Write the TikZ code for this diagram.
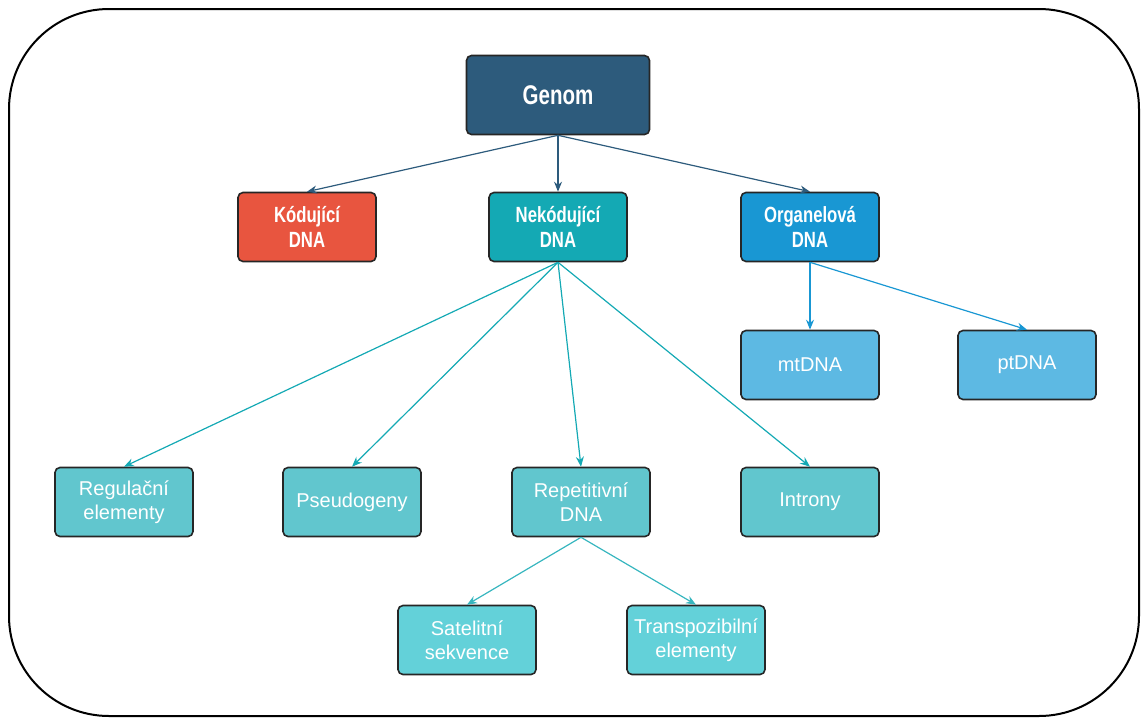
\documentclass[tikz,border=0pt]{standalone}
\usepackage{fontspec}
\setmainfont{Liberation Sans}
\newfontfamily\boldnarrow{Liberation Sans Bold}[FakeStretch=0.76]
\usepackage{tikz}
\usetikzlibrary{arrows.meta}

\definecolor{genomblue}{HTML}{2D5B7C}
\definecolor{codred}{HTML}{E8553F}
\definecolor{noncodteal}{HTML}{14A9B4}
\definecolor{orgblue}{HTML}{1997D3}
\definecolor{orgleaf}{HTML}{5DB9E3}
\definecolor{ncleaf}{HTML}{61C6CE}
\definecolor{repleaf}{HTML}{63D1D9}

\begin{document}
\begin{tikzpicture}[x=0.5pt,y=-0.5pt,
    box/.style={draw=black!85, line width=0.8pt, rounded corners=2.5pt,
      text=white, align=center, minimum width=69pt, minimum height=34.5pt,
      inner sep=1pt, font=\fontsize{10}{12}\selectfont},
    head/.style={box, font=\boldnarrow\fontsize{11}{12.5}\selectfont},
    link/.style={-{Stealth[length=5pt,width=4pt]}, line width=0.6pt}]
    \useasboundingbox (0,0) rectangle (1141,718);
    \draw[line width=1pt, rounded corners=50pt] (9,9) rectangle (1139,716);

    % top level
    \node[head, fill=genomblue, minimum width=91.5pt, minimum height=39.5pt,
      font=\boldnarrow\fontsize{13.5}{16}\selectfont] (genom) at (558,95) {Genom};

    % second level
    \node[head, fill=codred] (kod) at (307,227) {Kódující\\DNA};
    \node[head, fill=noncodteal] (nekod) at (558,227) {Nekódující\\DNA};
    \node[head, fill=orgblue] (organ) at (810,227) {Organelová\\DNA};

    % organelle DNA
    \node[box, fill=orgleaf] (mt) at (810,365) {mtDNA};
    \node[box, fill=orgleaf] (pt) at (1027,365) {ptDNA};

    % non-coding DNA
    \node[box, fill=ncleaf] (regul) at (124,502) {Regulační\\elementy};
    \node[box, fill=ncleaf] (pseudo) at (352,502) {Pseudogeny};
    \node[box, fill=ncleaf] (repet) at (581,502) {Repetitivní\\DNA};
    \node[box, fill=ncleaf] (intron) at (810,502) {Introny};

    % repetitive DNA
    \node[box, fill=repleaf] (satel) at (467,640) {Satelitní\\sekvence};
    \node[box, fill=repleaf] (transp) at (696,640) {Transpozibilní\\elementy};

    \draw[link, genomblue] (genom.south) -- (kod.north);
    \draw[link, genomblue] (genom.south) -- (nekod.north);
    \draw[link, genomblue] (genom.south) -- (organ.north);

    \draw[link, noncodteal] (nekod.south) -- (regul.north);
    \draw[link, noncodteal] (nekod.south) -- (pseudo.north);
    \draw[link, noncodteal] (nekod.south) -- (repet.north);
    \draw[link, noncodteal] (nekod.south) -- (intron.north);

    \draw[link, orgblue] (organ.south) -- (mt.north);
    \draw[link, orgblue] (organ.south) -- (pt.north);

    \draw[link, noncodteal!85!white] (repet.south) -- (satel.north);
    \draw[link, noncodteal!85!white] (repet.south) -- (transp.north);
\end{tikzpicture}
\end{document}
